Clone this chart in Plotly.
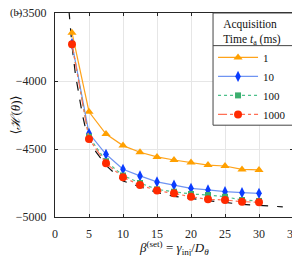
import plotly.graph_objects as go

beta = [2.5, 5, 7.5, 10, 12.5, 15, 17.5, 20, 22.5, 25, 27.5, 30]
h_1 = [-3645, -4226, -4390, -4475, -4524, -4558, -4581, -4600, -4618, -4625, -4650, -4654]
h_10 = [-3725, -4385, -4539, -4649, -4698, -4742, -4765, -4789, -4801, -4814, -4821, -4826]
h_100 = [-3730, -4410, -4590, -4695, -4750, -4797, -4814, -4831, -4838, -4851, -4875, -4882]
h_1000 = [-3730, -4426, -4605, -4708, -4765, -4806, -4826, -4851, -4870, -4875, -4887, -4892]

theory_beta = [2.05, 2.5, 3.0, 3.5, 4.0, 4.5, 5.0, 6.0, 7.5, 10, 12.5, 15, 17.5, 20, 22.5, 25, 27.5, 30, 33.5]
theory_h = [-3480, -3740, -3950, -4100, -4240, -4350, -4420, -4520, -4620, -4735, -4778, -4820, -4848, -4866, -4880, -4893, -4907, -4915, -4925]

x_ticks = [0, 5, 10, 15, 20, 25, 30, 35]
y_ticks = [-5000, -4500, -4000, -3500]

font_family = "Liberation Serif, DejaVu Serif, serif"

fig = go.Figure()

fig.add_trace(go.Scatter(
    x=theory_beta, y=theory_h, mode="lines",
    line=dict(color="#111111", width=1.2, dash="dash"),
    showlegend=False, hoverinfo="skip"))

fig.add_trace(go.Scatter(
    x=beta, y=h_1, mode="lines+markers", name="1",
    line=dict(color="#FFA31A", width=1.2),
    marker=dict(symbol="triangle-up", size=8, color="#FFA000")))
fig.add_trace(go.Scatter(
    x=beta, y=h_10, mode="lines+markers", name="10",
    line=dict(color="#6F94F2", width=1.2),
    marker=dict(symbol="diamond-tall", size=8, color="#0A3CFF")))
fig.add_trace(go.Scatter(
    x=beta, y=h_100, mode="lines+markers", name="100",
    line=dict(color="#4CC08A", width=1.2, dash="dot"),
    marker=dict(symbol="square", size=6, color="#3CAE6E")))
fig.add_trace(go.Scatter(
    x=beta, y=h_1000, mode="lines+markers", name="1000",
    line=dict(color="#FF6F55", width=1.2, dash="dashdot"),
    marker=dict(symbol="circle", size=8, color="#FF2A00")))

axis_common = dict(
    showline=True, linecolor="#262626", linewidth=1, mirror="ticks",
    ticks="inside", ticklen=3, tickcolor="#262626",
    showgrid=True, gridcolor="#E6E6E6", gridwidth=1,
    zeroline=False, ticklabeloverflow="allow", automargin=False,
    tickfont=dict(family=font_family, size=12, color="#262626"),
)

LEG_X0 = 0.664   # legend box left edge (paper)
LEG_Y0 = 0.45    # legend box bottom edge (paper)
LEG_SEP = 0.84   # separator between title and entries (paper)

# page has an 8px body margin; figure occupies page pixels 8..300 x 8..256
fig.update_layout(
    width=292, height=248,
    margin=dict(l=47, r=7, t=5, b=39, autoexpand=False),
    plot_bgcolor="white", paper_bgcolor="white",
    font=dict(family=font_family, size=12, color="#111111"),
    xaxis=dict(range=[0, 35], tickvals=x_ticks, ticklabelstandoff=6, **axis_common),
    yaxis=dict(range=[-5000, -3500], tickvals=y_ticks, ticklabelstandoff=5, **axis_common,
               title=dict(text="⟨<i>ℋ</i>(<i>θ</i>)⟩", font=dict(family=font_family, size=13), standoff=0)),
    legend=dict(
        x=LEG_X0, y=1, xanchor="left", yanchor="top",
        bgcolor="rgba(0,0,0,0)", borderwidth=0,
        font=dict(family=font_family, size=11, color="#111111"),
        title=dict(text="Acquisition<br>Time <i>t</i><sub>a</sub> (ms)", side="top center",
                   font=dict(family=font_family, size=11.5)),
        tracegroupgap=0, itemwidth=40,
    ),
    shapes=[
        dict(type="rect", xref="paper", yref="paper", x0=LEG_X0, x1=1.0, y0=LEG_Y0, y1=1.0,
             fillcolor="white", line=dict(color="#444444", width=1), layer="above"),
        dict(type="line", xref="paper", yref="paper", x0=LEG_X0, x1=1.0, y0=LEG_SEP, y1=LEG_SEP,
             line=dict(color="#444444", width=1), layer="above"),
    ],
    annotations=[
        dict(text="(b)", x=0, y=1, xref="paper", yref="paper", xshift=-47, yshift=0,
             xanchor="left", yanchor="middle", showarrow=False,
             font=dict(family=font_family, size=10.5, color="#111111")),
        dict(text="<i>β</i><sup>(set)</sup> = <i>γ</i><sub>inj</sub>/<i>D</i><sub><i>θ</i></sub>",
             x=0.5, y=0, xref="paper", yref="paper", yshift=-20,
             xanchor="center", yanchor="top", showarrow=False,
             font=dict(family=font_family, size=13, color="#111111")),
    ],
)

fig.write_html("out.html")
